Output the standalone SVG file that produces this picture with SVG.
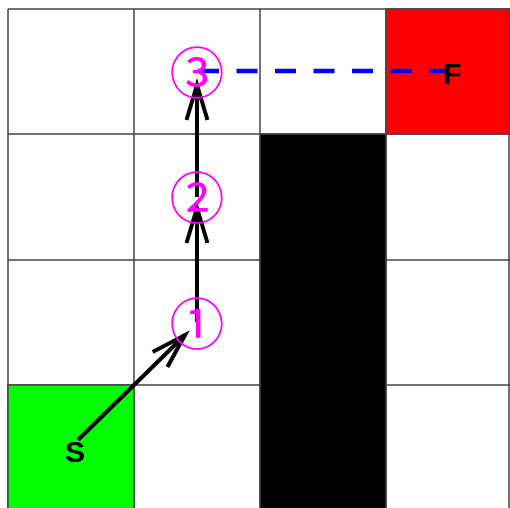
<svg xmlns="http://www.w3.org/2000/svg" width="510" height="508" viewBox="0 0 510 508">
<style>
.cell{stroke:#444;stroke-width:1.5}
.grid{stroke:#444;stroke-width:1.5;fill:none}
.lbl{font-family:"Liberation Sans",Arial,sans-serif;font-size:30px;font-weight:bold;fill:#000;text-anchor:middle;dominant-baseline:central}
.num{font-family:"DejaVu Serif","Noto Sans CJK JP",serif;font-size:55px;fill:#ff00ff;text-anchor:middle;dominant-baseline:central}
.arrow{stroke:#000;stroke-width:4;fill:none;marker-end:url(#head)}
</style>
<defs>
<marker id="head" markerUnits="userSpaceOnUse" viewBox="-40 -14 44 28" refX="0" refY="0" markerWidth="44" markerHeight="28" orient="auto" overflow="visible">
<path d="M-35,-10.5 L0,0 L-35,10.5" fill="none" stroke="#000" stroke-width="4" stroke-linejoin="miter"/>
</marker>
</defs>
<rect width="510" height="508" fill="#fff"/>
<g id="gridlines" class="grid">
<path d="M8,9V511M134,9V511M260,9V511M386,9V511M509,9V511"/>
<path d="M8,9H510M8,134H510M8,260H510M8,385H510"/>
</g>
<g id="cells">
<rect id="start" class="cell" x="8" y="385" width="126" height="126" fill="#00ff00"/>
<rect id="finish" class="cell" x="386" y="9" width="124" height="125" fill="#ff0000"/>
<rect id="wall" class="cell" x="260" y="134" width="126" height="377" fill="#000"/>
</g>
<g id="connectors">
<path class="arrow" d="M78,440L185,335"/>
<path class="arrow" d="M197,322V208"/>
<path class="arrow" d="M197,197V85"/>
<path d="M198,71H452" stroke="#0000ff" stroke-width="4.5" fill="none" stroke-dasharray="21 17.5"/>
</g>
<g id="node-S"><text class="lbl" x="75" y="451">S</text></g>
<g id="node-F"><text class="lbl" x="452" y="73">F</text></g>
<g id="node-1"><text class="num" x="197" y="325">①</text></g>
<g id="node-2"><text class="num" x="197" y="199">②</text></g>
<g id="node-3"><text class="num" x="197" y="74">③</text></g>
</svg>
